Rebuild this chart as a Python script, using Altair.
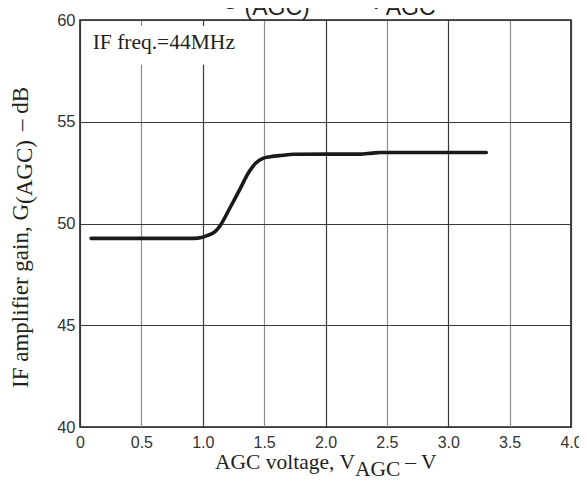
import altair as alt
import pandas as pd

# curve
volts = [0.09, 0.3, 0.5, 0.7, 0.9, 0.96, 1.03, 1.10, 1.14, 1.22, 1.30, 1.37, 1.43, 1.49, 1.55, 1.65, 1.74, 2.0, 2.28, 2.38, 2.45, 2.7, 3.0, 3.31]
gain = [49.27, 49.27, 49.27, 49.27, 49.27, 49.28, 49.39, 49.6, 49.88, 50.75, 51.65, 52.47, 52.96, 53.2, 53.28, 53.35, 53.4, 53.41, 53.41, 53.46, 53.49, 53.49, 53.49, 53.49]

x_ticks = [0, 0.5, 1.0, 1.5, 2.0, 2.5, 3.0, 3.5, 4.0]
y_ticks = [40, 45, 50, 55, 60]

curve = pd.DataFrame({"x": volts, "y": gain})

FRAME = "#231f20"
SERIF = "Liberation Serif"
SANS = "Liberation Sans"

xs = alt.Scale(domain=[0, 4], nice=False, zero=False)
ys = alt.Scale(domain=[40, 60], nice=False, zero=False)

x_axis = alt.Axis(values=x_ticks, title=None, ticks=False, domain=False,
                  labelExpr="datum.value == 0 ? '0' : format(datum.value, '.1f')",
                  labelFont=SANS, labelFontSize=16, labelColor="#333333",
                  labelPadding=7, labelFlush=False, labelOverlap=False, labelBound=False,
                  grid=True, gridWidth=1.2,
                  gridColor={"condition": {"test": "datum.value % 1 != 0", "value": "#8c8c8c"}, "value": "#3a3a3a"})
y_axis = alt.Axis(values=y_ticks, title=None, ticks=False, domain=False,
                  labelFont=SANS, labelFontSize=16.5, labelColor="#333333",
                  labelPadding=5, labelFlush=False, labelOverlap=False,
                  grid=True, gridWidth=1.2, gridColor="#3a3a3a")

X = alt.X("x:Q", scale=xs, axis=x_axis)
Y = alt.Y("y:Q", scale=ys, axis=y_axis)

line = alt.Chart(curve).mark_line(color="#1a1a1a", strokeWidth=3.6, interpolate="monotone",
                                  strokeCap="round", strokeJoin="round").encode(x=X, y=Y)

# white box behind the annotation
box = pd.DataFrame({"x": [0.02], "x2": [1.31], "y": [57.8], "y2": [59.7]})
box_layer = alt.Chart(box).mark_rect(color="white").encode(x=X, x2="x2:Q", y=Y, y2="y2:Q")

note = pd.DataFrame({"x": [0.103], "y": [58.56], "label": ["IF freq.=44MHz"]})
note_layer = alt.Chart(note).mark_text(font=SERIF, fontSize=21.5, align="left", baseline="alphabetic",
                                       color="#231f20").encode(x=X, y=Y, text="label:N")

# title pieces (G(AGC) – VAGC)
t_main = pd.DataFrame({"x": [1.149, 2.06, 2.35], "y": [60.54, 60.42, 60.54], "label": ["G", "–", "V"]})
t_sub = pd.DataFrame({"x": [1.34, 2.49], "y": [60.25, 60.25], "label": ["(AGC)", "AGC"]})
title_main = alt.Chart(t_main).mark_text(font=SANS, fontSize=23, align="left", baseline="alphabetic",
                                         color="#231f20").encode(x=X, y=Y, text="label:N")
title_sub = alt.Chart(t_sub).mark_text(font=SANS, fontSize=23, align="left", baseline="alphabetic",
                                       color="#231f20").encode(x=X, y=Y, text="label:N")

# x axis title pieces
xt_main = pd.DataFrame({"x": [1.10, 2.65], "y": [37.92, 37.92], "label": ["AGC voltage, V", "– V"]})
xt_sub = pd.DataFrame({"x": [2.24], "y": [37.59], "label": ["AGC"]})
xtitle_main = alt.Chart(xt_main).mark_text(font=SERIF, fontSize=21.5, align="left", baseline="alphabetic",
                                           color="#231f20").encode(x=X, y=Y, text="label:N")
xtitle_sub = alt.Chart(xt_sub).mark_text(font=SERIF, fontSize=21.5, align="left", baseline="alphabetic",
                                         color="#231f20").encode(x=X, y=Y, text="label:N")

# y axis title pieces (rotated)
yt_main = pd.DataFrame({"x": [-0.424, -0.424], "y": [41.92, 54.54], "label": ["IF amplifier gain, G", "– dB"]})
yt_sub = pd.DataFrame({"x": [-0.394], "y": [50.96], "label": ["(AGC)"]})
ytitle_main = alt.Chart(yt_main).mark_text(font=SERIF, fontSize=23, align="left", baseline="alphabetic",
                                           angle=270, color="#231f20").encode(x=X, y=Y, text="label:N")
ytitle_sub = alt.Chart(yt_sub).mark_text(font=SERIF, fontSize=23, align="left", baseline="alphabetic",
                                         angle=270, color="#231f20").encode(x=X, y=Y, text="label:N")

chart = alt.layer(box_layer, line, note_layer, title_main, title_sub,
                  xtitle_main, xtitle_sub, ytitle_main, ytitle_sub).properties(
    width=491, height=407,
    autosize=alt.AutoSizeParams(type="none"),
    padding={"left": 72, "top": 12, "right": 8, "bottom": 49},
    background="white",
).configure_view(stroke=FRAME, strokeWidth=1.6)

chart.save("out.html", embed_options={"renderer": "svg", "actions": False})
